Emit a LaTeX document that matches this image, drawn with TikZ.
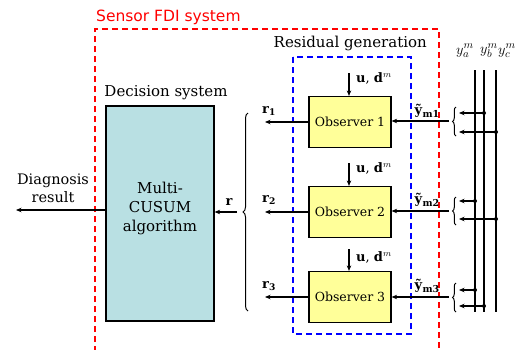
\documentclass[tikz,border=0pt]{standalone}
\usepackage{fontspec}
\setmainfont{DejaVu Serif}
\newfontfamily\redsans{DejaVu Sans}
\usetikzlibrary{arrows.meta,decorations.pathreplacing}
\definecolor{obsyellow}{HTML}{FFFF99}
\definecolor{deccyan}{HTML}{B9E0E3}
\newcommand{\ymlab}[1]{\textbf{ỹ}\raisebox{-0.45ex}{\fontsize{9.5}{10}\selectfont\bfseries m#1}}
\begin{document}
\begin{tikzpicture}[x=1pt,y=-1pt,
  arr/.style={-{Stealth[length=5.5pt,width=4.5pt]}, line width=1.3pt},
  obsbox/.style={draw, line width=1.2pt, fill=obsyellow, minimum width=82pt, minimum height=51pt, inner sep=0pt, font=\fontsize{12.5}{15}\selectfont},
  lbl/.style={inner sep=0pt, font=\fontsize{15}{17}\selectfont},
  mlbl/.style={inner sep=0pt, font=\fontsize{13}{15}\selectfont},
  brc/.style={decorate, line width=1pt},
  bus/.style={line width=1.1pt},
  dot/.style={circle, fill=black, inner sep=0pt, minimum size=4pt},
  reddash/.style={draw=red, line width=1.2pt, dash pattern=on 6pt off 4pt},
  bluedash/.style={draw=blue, line width=1.2pt, dash pattern=on 6pt off 4pt}
]
\useasboundingbox (0,0) rectangle (515,349);
% outer frames
\draw[reddash] (95,352) -- (95,29) -- (439,29) -- (439,352);
\node[inner sep=0pt, text=red, font=\redsans\fontsize{15.5}{17}\selectfont, anchor=west] (fdi) at (96,17) {Sensor FDI system};
\draw[bluedash] (293,57) rectangle (411,334);
\node[lbl, anchor=east] (resgen) at (427,43) {Residual generation};
% decision system
\node[draw, line width=1.2pt, fill=deccyan, minimum width=108pt, minimum height=215pt, inner sep=0pt] (dec) at (160,213.5) {};
\node[inner sep=0pt, align=center, font=\fontsize{15}{19}\selectfont] (cusum) at (160,208) {Multi-\\CUSUM\\algorithm};
\node[lbl] (dectitle) at (166,93) {Decision system};
\coordinate (diagend) at (16,210);
\draw[arr] (dec.west |- diagend) -- (diagend);
\node[inner sep=0pt, align=center, font=\fontsize{14.5}{18}\selectfont] (diag) at (53,188) {Diagnosis\\result};
% big brace
\draw[brc, decoration={brace, amplitude=5pt}] (248,311) -- (248,113) coordinate[pos=0.5] (bigmid);
\coordinate (rstart) at (237,212);
\draw[arr] (rstart) -- (dec.east |- rstart);
\node[mlbl] (rlab) at (229,202) {$\mathbf{r}$};
% observers
\node[obsbox] (o1) at (350,122) {Observer 1};
\node[obsbox] (o2) at (350,212) {Observer 2};
\node[obsbox] (o3) at (350,297) {Observer 3};
% r outputs
\coordinate (r1e) at (265,122);
\coordinate (r2e) at (265,212);
\coordinate (r3e) at (265,297);
\draw[arr] (o1.west) -- (r1e);
\draw[arr] (o2.west) -- (r2e);
\draw[arr] (o3.west) -- (r3e);
\node[mlbl] (r1l) at (269,111) {$\mathbf{r}_{\mathbf{1}}$};
\node[mlbl] (r2l) at (269,200) {$\mathbf{r}_{\mathbf{2}}$};
\node[mlbl] (r3l) at (269,286) {$\mathbf{r}_{\mathbf{3}}$};
% u, d inputs
\coordinate (u1) at (349,73);
\coordinate (u2) at (349,163);
\coordinate (u3) at (349,249);
\draw[arr] (u1) -- (u1 |- o1.north);
\draw[arr] (u2) -- (u2 |- o2.north);
\draw[arr] (u3) -- (u3 |- o3.north);
\node[mlbl, anchor=west] (ud1) at (356,78) {$\mathbf{u}$, $\mathbf{d}^{m}$};
\node[mlbl, anchor=west] (ud2) at (356,168) {$\mathbf{u}$, $\mathbf{d}^{m}$};
\node[mlbl, anchor=west] (ud3) at (356,257) {$\mathbf{u}$, $\mathbf{d}^{m}$};
% measurement inputs
\coordinate (y1s) at (449,121);
\coordinate (y2s) at (449,211);
\coordinate (y3s) at (449,297);
\draw[arr] (y1s) -- (o1.east |- y1s);
\draw[arr] (y2s) -- (o2.east |- y2s);
\draw[arr] (y3s) -- (o3.east |- y3s);
\node[mlbl] (ym1) at (427,111) {\ymlab{1}};
\node[mlbl] (ym2) at (427,200) {\ymlab{2}};
\node[mlbl] (ym3) at (427,286) {\ymlab{3}};
% small braces
\draw[brc, decoration={brace, amplitude=3.5pt}] (456,136) -- (456,107);
\draw[brc, decoration={brace, amplitude=3.5pt}] (456,225) -- (456,197);
\draw[brc, decoration={brace, amplitude=3.5pt}] (456,312) -- (456,283);
% bus lines
\coordinate (ba) at (475,70);
\coordinate (bb) at (484,70);
\coordinate (bc) at (496,70);
\coordinate (ba2) at (475,312);
\coordinate (bb2) at (484,312);
\coordinate (bc2) at (496,312);
\draw[bus] (ba) -- (ba2);
\draw[bus] (bb) -- (bb2);
\draw[bus] (bc) -- (bc2);
\node[inner sep=0pt, font=\fontsize{15}{17}\selectfont] (ya) at (465,51) {$y_a^m$};
\node[inner sep=0pt, font=\fontsize{15}{17}\selectfont] (yb) at (489,51) {$y_b^m$};
\node[inner sep=0pt, font=\fontsize{15}{17}\selectfont] (yc) at (507,51) {$y_c^m$};
% taps
\node[dot] (t11) at (484,113) {};
\node[dot] (t12) at (496,132) {};
\node[dot] (t21) at (475,201) {};
\node[dot] (t22) at (496,219) {};
\node[dot] (t31) at (475,290) {};
\node[dot] (t32) at (484,306) {};
\coordinate (e11) at (459,113);
\coordinate (e12) at (459,132);
\coordinate (e21) at (459,201);
\coordinate (e22) at (459,219);
\coordinate (e31) at (459,290);
\coordinate (e32) at (459,306);
\draw[arr] (t11.center) -- (e11);
\draw[arr] (t12.center) -- (e12);
\draw[arr] (t21.center) -- (e21);
\draw[arr] (t22.center) -- (e22);
\draw[arr] (t31.center) -- (e31);
\draw[arr] (t32.center) -- (e32);
\end{tikzpicture}
\end{document}
